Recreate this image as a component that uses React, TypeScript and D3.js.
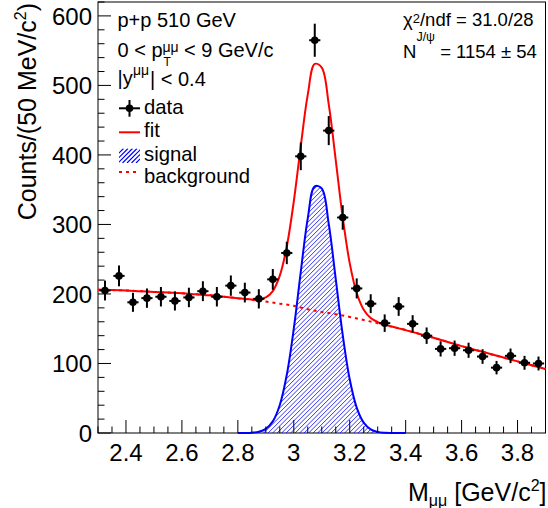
import React from 'react';
import * as d3 from 'd3';

const W = 548;
const H = 508;
const FRAME = { left: 98, right: 545.5, top: 2, bottom: 433 };
const FONT = '"Liberation Sans", Arial, Helvetica, sans-serif';

const X_DOMAIN: [number, number] = [2.3, 3.9];
const Y_DOMAIN: [number, number] = [0, 620];

// data histogram, 50 MeV bins
const binCenters = [
  2.325, 2.375, 2.425, 2.475, 2.525, 2.575, 2.625, 2.675, 2.725, 2.775, 2.825,
  2.875, 2.925, 2.975, 3.025, 3.075, 3.125, 3.175, 3.225, 3.275, 3.325, 3.375,
  3.425, 3.475, 3.525, 3.575, 3.625, 3.675, 3.725, 3.775, 3.825, 3.875,
];
const counts = [
  205, 226, 188, 194, 196, 190, 195, 204, 196, 212, 202,
  193, 221, 259, 398, 565, 435, 310, 208, 186, 158, 182,
  157, 140, 121, 122, 119, 110, 94, 111, 101, 100,
];
const countErrors = [
  14.3, 15.0, 13.7, 13.9, 14.0, 13.8, 14.0, 14.3, 14.0, 14.6, 14.2,
  13.9, 14.9, 16.1, 19.9, 23.8, 20.9, 17.6, 14.4, 13.6, 12.6, 13.5,
  12.5, 11.8, 11.0, 11.0, 10.9, 10.5, 9.7, 10.5, 10.0, 10.0,
];
const X_BAR = 0.02;

// total fit (signal + background)
const fitX = [
  2.3, 2.35, 2.4, 2.45, 2.5, 2.55, 2.6, 2.65, 2.7, 2.75, 2.8,
  2.825, 2.85, 2.875, 2.9, 2.925, 2.95, 2.975, 3.0, 3.025, 3.05, 3.075,
  3.1, 3.125, 3.15, 3.175, 3.2, 3.225, 3.25, 3.275, 3.3, 3.325, 3.35, 3.375,
  3.4, 3.45, 3.5, 3.55, 3.6, 3.65, 3.7, 3.75, 3.8, 3.85, 3.9,
];
const fitY = [
  206, 205.6, 205, 204, 203, 202, 201, 199.5, 198, 196, 194,
  192.9, 192, 192.1, 195, 204.2, 226.3, 268.3, 333, 412.8, 486.8, 530.9,
  525.7, 472.7, 392.6, 310, 244.3, 201.4, 177.4, 165.5, 159.6, 155.9, 153.1, 150.5,
  148, 142.5, 137, 131, 125, 119.5, 114, 108.5, 103, 97.5, 92,
];

// J/psi signal
const sigX = [
  2.8, 2.825, 2.85, 2.875, 2.9, 2.925, 2.95, 2.975, 3.0, 3.025, 3.05, 3.075, 3.1,
  3.125, 3.15, 3.175, 3.2, 3.225, 3.25, 3.275, 3.3, 3.325, 3.35, 3.375, 3.4,
];
const sigY = [
  0, 0.1, 0.5, 1.8, 6.0, 16.7, 40.3, 83.8, 150, 231.8, 308.8, 354.9, 351.7,
  300.7, 221.6, 141, 77.3, 36.6, 14.9, 5.2, 1.6, 0.4, 0.1, 0, 0,
];

// background
const bkgX = [
  2.3, 2.35, 2.4, 2.45, 2.5, 2.55, 2.6, 2.65, 2.7, 2.75, 2.8, 2.85, 2.9, 2.95, 3.0, 3.05,
  3.1, 3.15, 3.2, 3.25, 3.3, 3.35, 3.4, 3.45, 3.5, 3.55, 3.6, 3.65, 3.7, 3.75, 3.8, 3.85, 3.9,
];
const bkgY = [
  206, 205.6, 205, 204, 203, 202, 201, 199.5, 198, 196, 194, 191.5, 189, 186, 183, 178,
  174, 171, 167, 162.5, 158, 153, 148, 142.5, 137, 131, 125, 119.5, 114, 108.5, 103, 97.5, 92,
];

const xTickValues = [2.4, 2.6, 2.8, 3.0, 3.2, 3.4, 3.6, 3.8];
const xTickLabels = ['2.4', '2.6', '2.8', '3', '3.2', '3.4', '3.6', '3.8'];
const yTickValues = [0, 100, 200, 300, 400, 500, 600];
const yTickLabels = ['0', '100', '200', '300', '400', '500', '600'];

const RED = '#ff0000';
const BLUE = '#0000ff';
const HATCH_STEP = 4.5;

// diagonal "/" hatch lines covering a box, to be clipped by a shape
function hatchLines(x0: number, y0: number, x1: number, y1: number) {
  const h = y1 - y0;
  const out: string[] = [];
  for (let s = x0 - h; s <= x1; s += HATCH_STEP) {
    out.push(`M${s},${y1}L${s + h},${y0}`);
  }
  return out.join('');
}

export default function App() {
  const x = d3.scaleLinear().domain(X_DOMAIN).range([FRAME.left, FRAME.right]);
  const y = d3.scaleLinear().domain(Y_DOMAIN).range([FRAME.bottom, FRAME.top]);

  const curve = d3.curveCatmullRom.alpha(0.5);
  const line = d3
    .line<[number, number]>()
    .x((d) => x(d[0]))
    .y((d) => y(d[1]))
    .curve(curve);
  const area = d3
    .area<[number, number]>()
    .x((d) => x(d[0]))
    .y0(y(0))
    .y1((d) => y(d[1]))
    .curve(curve);

  const fitPts = fitX.map((v, i) => [v, fitY[i]] as [number, number]);
  const sigPts = sigX.map((v, i) => [v, sigY[i]] as [number, number]);
  const bkgPts = bkgX.map((v, i) => [v, bkgY[i]] as [number, number]);

  const xMinor = d3.range(2.3, 3.9001, 0.05).filter((v) => !xTickValues.some((t) => Math.abs(t - v) < 1e-6));
  const yMinor = d3.range(0, 621, 20).filter((v) => v % 100 !== 0);

  const MAJ = 13;
  const MIN = 6.5;

  const sigArea = area(sigPts) || '';
  const sigTop = y(d3.max(sigY) || 0);

  return (
    <svg
      width={W}
      height={H}
      style={{ position: 'absolute', left: 0, top: 0, background: '#fff' }}
      fontFamily={FONT}
    >
      <defs>
        <clipPath id="sigClip">
          <path d={sigArea} />
        </clipPath>
        <clipPath id="legClip">
          <rect x={119} y={148.5} width={21} height={14.5} />
        </clipPath>
      </defs>
      <rect x={0} y={0} width={W} height={H} fill="#fff" />

      {/* frame */}
      <rect
        x={FRAME.left}
        y={FRAME.top}
        width={FRAME.right - FRAME.left}
        height={FRAME.bottom - FRAME.top}
        fill="none"
        stroke="#000"
        strokeWidth={1}
      />

      {/* signal */}
      <path
        d={hatchLines(x(2.8), sigTop - 2, x(3.4), FRAME.bottom)}
        clipPath="url(#sigClip)"
        fill="none"
        stroke={BLUE}
        strokeWidth={0.8}
      />
      <path d={line(sigPts) || ''} fill="none" stroke={BLUE} strokeWidth={2} />

      {/* background and total fit */}
      <path d={line(bkgPts) || ''} fill="none" stroke={RED} strokeWidth={2} strokeDasharray="3,4" />
      <path d={line(fitPts) || ''} fill="none" stroke={RED} strokeWidth={2} />

      {/* ticks */}
      <g stroke="#000" strokeWidth={1}>
        {xTickValues.map((v) => (
          <line key={'xt' + v} x1={x(v)} x2={x(v)} y1={FRAME.bottom} y2={FRAME.bottom - MAJ} />
        ))}
        {xMinor.map((v) => (
          <line key={'xm' + v} x1={x(v)} x2={x(v)} y1={FRAME.bottom} y2={FRAME.bottom - MIN} />
        ))}
        {yTickValues.map((v) => (
          <line key={'yt' + v} x1={FRAME.left} x2={FRAME.left + MAJ} y1={y(v)} y2={y(v)} />
        ))}
        {yMinor.map((v) => (
          <line key={'ym' + v} x1={FRAME.left} x2={FRAME.left + MIN} y1={y(v)} y2={y(v)} />
        ))}
      </g>

      {/* data */}
      <g stroke="#000" strokeWidth={2}>
        {binCenters.map((c, i) => (
          <g key={'d' + i}>
            <line x1={x(c)} x2={x(c)} y1={y(counts[i] - countErrors[i])} y2={y(counts[i] + countErrors[i])} />
            <line x1={x(c - X_BAR)} x2={x(c + X_BAR)} y1={y(counts[i])} y2={y(counts[i])} />
            <circle cx={x(c)} cy={y(counts[i])} r={3.8} fill="#000" stroke="none" />
          </g>
        ))}
      </g>

      {/* tick labels */}
      <g fontSize={24} fill="#000">
        {xTickValues.map((v, i) => (
          <text key={'xl' + v} x={x(v)} y={461} textAnchor="middle">
            {xTickLabels[i]}
          </text>
        ))}
        {yTickValues.map((v, i) => (
          <text key={'yl' + v} x={92} y={y(v)} dy="0.36em" textAnchor="end">
            {yTickLabels[i]}
          </text>
        ))}
      </g>

      {/* axis titles */}
      <text x={546.5} y={501} textAnchor="end" fontSize={25}>
        M<tspan fontSize={16} dy={5}>μμ</tspan>
        <tspan dy={-5}> [GeV/c</tspan>
        <tspan fontSize={16} dy={-10}>2</tspan>
        <tspan dy={10}>]</tspan>
      </text>
      <text transform="translate(36,3) rotate(-90)" textAnchor="end" fontSize={25}>
        Counts/(50 MeV/c<tspan fontSize={16} dy={-10}>2</tspan>
        <tspan dy={10}>)</tspan>
      </text>

      {/* header text */}
      <g fontSize={20} fill="#000">
        <text x={117.5} y={26.5}>p+p 510 GeV</text>
        <text x={117.5} y={57.3}>0 &lt; p</text>
        <text x={162.5} y={52} fontSize={14}>μμ</text>
        <text x={163.5} y={66} fontSize={12}>T</text>
        <text x={184} y={57.3}>&lt; 9 GeV/c</text>
        <text x={117.5} y={85}>|y</text>
        <text x={133} y={74.5} fontSize={14}>μμ</text>
        <text x={150} y={85.5}>| &lt; 0.4</text>
      </g>
      <g fontSize={18.5} fill="#000">
        <text x={403} y={26}>
          χ<tspan fontSize={13} dy={-3}>2</tspan>
          <tspan dy={3}>/ndf = 31.0/28</tspan>
        </text>
        <text x={403} y={57.8}>
          N<tspan fontSize={12.5} dy={-16.5}>J/ψ</tspan>
          <tspan dy={16.5}> = 1154 ± 54</tspan>
        </text>
      </g>

      {/* legend */}
      <g>
        <line x1={119} x2={140} y1={108.3} y2={108.3} stroke="#000" strokeWidth={2} />
        <line x1={129.5} x2={129.5} y1={100} y2={116.7} stroke="#000" strokeWidth={2} />
        <circle cx={129.5} cy={108.3} r={3.8} fill="#000" />
        <line x1={119} x2={140} y1={132.3} y2={132.3} stroke={RED} strokeWidth={2} />
        <path
          d={hatchLines(119, 148.5, 140, 163)}
          clipPath="url(#legClip)"
          fill="none"
          stroke={BLUE}
          strokeWidth={1.2}
        />
        <line x1={119} x2={140} y1={172} y2={172} stroke={RED} strokeWidth={2} strokeDasharray="3,4" />
      </g>
      <g fontSize={20.3} fill="#000">
        <text x={144} y={114}>data</text>
        <text x={144} y={136.7}>fit</text>
        <text x={144} y={160.5}>signal</text>
        <text x={144} y={183.3}>background</text>
      </g>
    </svg>
  );
}
